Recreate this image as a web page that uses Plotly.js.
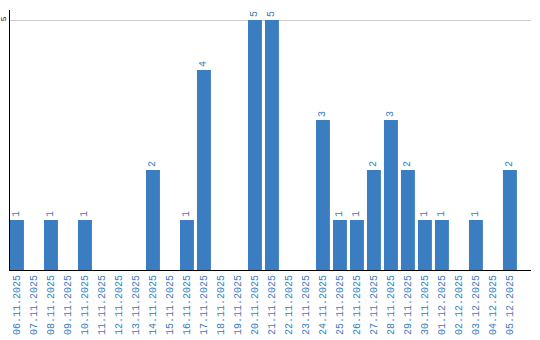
<!DOCTYPE html>
<html>
<head>
<meta charset="utf-8">
<script src="https://cdn.plot.ly/plotly-3.0.1.min.js"></script>
<style>html,body{margin:0;padding:0;background:#fff;}#chart{width:540px;height:340px;}</style>
</head>
<body>
<div id="chart"></div>
<script>
var dates = ["06.11.2025","07.11.2025","08.11.2025","09.11.2025","10.11.2025","11.11.2025","12.11.2025","13.11.2025","14.11.2025","15.11.2025","16.11.2025","17.11.2025","18.11.2025","19.11.2025","20.11.2025","21.11.2025","22.11.2025","23.11.2025","24.11.2025","25.11.2025","26.11.2025","27.11.2025","28.11.2025","29.11.2025","30.11.2025","01.12.2025","02.12.2025","03.12.2025","04.12.2025","05.12.2025"];
var counts = [1,0,1,0,1,0,0,0,2,0,1,4,0,0,5,5,0,0,3,1,1,2,3,2,1,1,0,1,0,2];
var yTickVals = [5];
var yTickText = ["5"];
var labels = counts.map(function(v){ return v > 0 ? String(v) : ""; });
var blue = "#3a7dc0";
var trace = {
  type: "bar",
  x: dates,
  y: counts,
  text: labels,
  textposition: "outside",
  textangle: -90,
  cliponaxis: false,
  textfont: {family: "Liberation Mono", size: 10, color: blue},
  marker: {color: blue},
  hoverinfo: "x+y"
};
var layout = {
  width: 540, height: 340,
  margin: {l: 10, r: 9, t: 10, b: 70},
  paper_bgcolor: "#fff", plot_bgcolor: "#fff",
  showlegend: false,
  bargap: 0.18,
  xaxis: {
    type: "category",
    range: [-0.41, 30.24],
    showline: true, linecolor: "#000", linewidth: 1,
    showgrid: false, ticks: "",
    tickangle: -90,
    tickfont: {family: "Liberation Mono", size: 10, color: blue},
    automargin: false
  },
  yaxis: {
    range: [0, 5.2],
    tickvals: yTickVals,
    ticktext: yTickText,
    showline: true, linecolor: "#000", linewidth: 1,
    showgrid: true, gridcolor: "#cccccc", gridwidth: 1,
    zeroline: false, ticks: "", ticklen: 0,
    tickangle: -90,
    tickfont: {family: "Liberation Mono", size: 8, color: "#000"},
    automargin: false
  },
  font: {family: "Liberation Mono"}
};
Plotly.newPlot("chart", [trace], layout, {displayModeBar: false, staticPlot: true});
</script>
</body>
</html>
